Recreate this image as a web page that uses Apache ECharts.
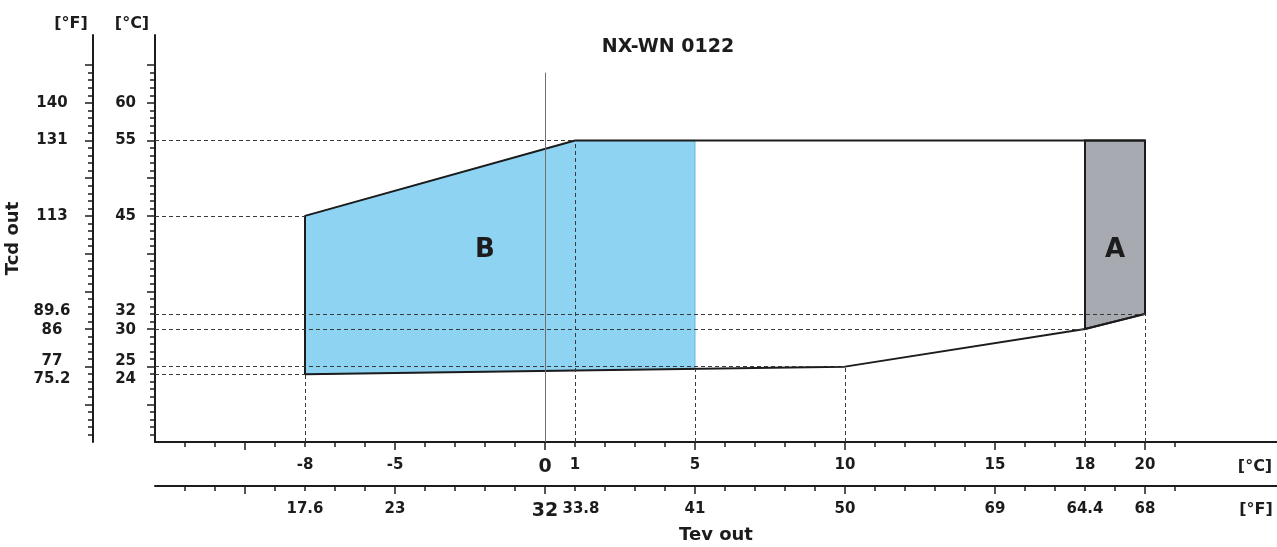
<!DOCTYPE html>
<html>
<head>
<meta charset="utf-8">
<title>NX-WN 0122</title>
<script src="https://cdn.jsdelivr.net/npm/echarts@6/dist/echarts.min.js"></script>
<style>
  html, body { margin: 0; padding: 0; background: #fff; }
  #chart { width: 1277px; height: 547px; }
</style>
</head>
<body>
<div id="chart"></div>
<script>
// operating envelope, Tev out [°C] on x, Tcd out [°C] on y
const envelope = [[-8, 24], [-8, 45], [1, 55], [20, 55], [20, 32], [18, 30], [10, 25], [-8, 24]]
const zoneB = [[-8, 24], [-8, 45], [1, 55], [5, 55], [5, 24.7]]
const zoneA = [[18, 30], [18, 55], [20, 55], [20, 32]]
const labelB = [-2, 40.5]
const labelA = [19, 40.5]

// dashed guides: [level, where it stops]
const tcdGuides = [[55, 1], [45, -8], [32, 20], [30, 18], [25, 10], [24, -8]]
const tevGuides = [[-8, 24], [1, 55], [5, 24.7], [10, 25], [18, 30], [20, 32]]
const zeroLine = [[0, 64], [0, 15]]

// tick labels
const tevC = [-8, -5, 0, 1, 5, 10, 15, 18, 20]
const tevF = ['17.6', '23', '32', '33.8', '41', '50', '69', '64.4', '68']
const tcdC = [24, 25, 30, 32, 45, 55, 60]
const tcdF = ['75.2', '77', '86', '89.6', '113', '131', '140']

const TEV_MIN = -13
const TEV_MAX = 24.4
const TCD_MIN = 15
const TCD_MAX = 69

function range(a, b, step) {
  const out = []
  for (let v = a; v <= b; v += step) out.push(v)
  return out
}
const tevTicks = range(-12, 21, 1)
const tevMajor = range(-10, 20, 5)
const tcdTicks = range(16, 65, 1)
const tcdMajor = range(20, 65, 5)

// 24 and 25 sit only 1 °C apart; ECharts would drop one of them as an
// overlapping end label, so 24 goes on the overlaid major-tick axis
const tcdLow = tcdC.slice(0, 1)
const tcdRest = tcdC.slice(1)

const FONT = 'DejaVu Sans'
const INK = '#1c1c1c'

// crowded y labels are pushed apart a little on the original (px, + = down)
const tcdNudge = { 32: -3, 30: 1, 25: -6, 24: 5 }

const baseText = { fontFamily: FONT, fontWeight: 'bold', fontSize: 15, color: INK }
const tcdRich = {}
Object.keys(tcdNudge).forEach(k => {
  const n = tcdNudge[k]
  tcdRich['n' + k] = Object.assign({ padding: n < 0 ? [0, 0, -2 * n, 0] : [2 * n, 0, 0, 0] }, baseText)
})

function tevLabel(names) {
  return v => {
    const i = tevC.indexOf(v)
    if (i < 0) return ''
    // the 0 / 32 pair is printed larger, 33.8 is pushed right of 32
    if (v === 0) return '{big|' + names[i] + '}'
    if (v === 1 && names[i] !== '1') return '{shift|' + names[i] + '}'
    return names[i]
  }
}

function tcdLabel(names) {
  return v => {
    const i = tcdC.indexOf(v)
    if (i < 0) return ''
    return tcdNudge[v] != null ? '{n' + v + '|' + names[i] + '}' : names[i]
  }
}

function tevAxis(offset, ticks, len, names) {
  const axis = {
    type: 'value', min: TEV_MIN, max: TEV_MAX, position: 'bottom', offset: offset,
    axisLine: { show: !!names, onZero: false, lineStyle: { color: INK, width: 2 } },
    axisTick: { show: true, customValues: ticks, length: len, lineStyle: { color: INK, width: 1.5 } },
    axisLabel: { show: false },
    splitLine: { show: false }
  }
  if (names) {
    axis.axisLabel = Object.assign({
      show: true, customValues: tevC, margin: 16, hideOverlap: false,
      showMinLabel: true, showMaxLabel: true,
      formatter: tevLabel(names),
      rich: {
        big: Object.assign({}, baseText, { fontSize: 19 }),
        shift: Object.assign({ padding: [0, 0, 0, 12] }, baseText)
      }
    }, baseText)
  }
  return axis
}

function tcdAxis(offset, ticks, len, shown, names, margin, align, line) {
  return {
    type: 'value', min: TCD_MIN, max: TCD_MAX, position: 'left', offset: offset,
    axisLine: { show: line, onZero: false, lineStyle: { color: INK, width: 2 } },
    axisTick: { show: true, customValues: ticks, length: len, lineStyle: { color: INK, width: 1.5 } },
    axisLabel: Object.assign({
      show: true, customValues: shown, margin: margin, align: align, hideOverlap: false,
      showMinLabel: true, showMaxLabel: true,
      formatter: tcdLabel(names),
      rich: tcdRich
    }, baseText),
    splitLine: { show: false }
  }
}

function zoneSeries(points, fill, stroke, width, text, textAt) {
  return {
    type: 'custom',
    data: points,
    z: 1,
    silent: true,
    renderItem: (params, api) => {
      if (params.dataIndex !== 0) return
      const pts = points.map(p => api.coord(p))
      const at = api.coord(textAt)
      return {
        type: 'group',
        children: [
          { type: 'polygon', shape: { points: pts }, style: { fill: fill, stroke: stroke, lineWidth: width } },
          {
            type: 'text', x: at[0], y: at[1],
            style: {
              text: text, fill: INK, align: 'center', verticalAlign: 'middle',
              font: 'bold 26px "' + FONT + '"'
            }
          }
        ]
      }
    }
  }
}

const guideLines = []
tcdGuides.forEach(g => guideLines.push([{ coord: [TEV_MIN, g[0]] }, { coord: [g[1], g[0]] }]))
tevGuides.forEach(g => guideLines.push([{ coord: [g[0], TCD_MIN] }, { coord: [g[0], g[1]] }]))
guideLines.push([
  { coord: zeroLine[0], lineStyle: { type: 'solid', color: '#6f6f6f', width: 1 } },
  { coord: zeroLine[1] }
])

const xAxes = [tevAxis(0, tevTicks, 5, tevC.map(String)), tevAxis(0, tevMajor, 8, null),
  tevAxis(44, tevTicks, 5, tevF), tevAxis(44, tevMajor, 8, null)]
xAxes[2].name = 'Tev out'
xAxes[2].nameLocation = 'middle'
xAxes[2].nameGap = 37
xAxes[2].nameTextStyle = Object.assign({}, baseText, { fontSize: 18 })

const tcdNamesC = tcdC.map(String)
const yAxes = [
  tcdAxis(0, tcdTicks, 5, tcdRest, tcdNamesC, 19, 'right', true),
  tcdAxis(0, tcdMajor, 8, tcdLow, tcdNamesC, 19, 'right', false),
  tcdAxis(62, tcdTicks, 5, tcdRest, tcdF, 41, 'center', true),
  tcdAxis(62, tcdMajor, 8, tcdLow, tcdF, 41, 'center', false)
]
yAxes[2].name = 'Tcd out'
yAxes[2].nameLocation = 'middle'
yAxes[2].nameGap = 62
yAxes[2].nameTextStyle = Object.assign({}, baseText, { fontSize: 18 })

const unitStyle = { font: 'bold 16px "' + FONT + '"', fill: INK, align: 'center', verticalAlign: 'middle' }

const chart = echarts.init(document.getElementById('chart'))
chart.setOption({
  animation: false,
  title: {
    text: 'NX-WN 0122', left: 663, top: 33, textAlign: 'center',
    textStyle: Object.assign({}, baseText, { fontSize: 19 })
  },
  grid: { left: 155, right: 0, top: 35, bottom: 105, outerBoundsMode: 'none', containLabel: false },
  xAxis: xAxes,
  yAxis: yAxes,
  graphic: [
    { type: 'text', x: 71, y: 24, style: Object.assign({ text: '[°F]' }, unitStyle) },
    { type: 'text', x: 132, y: 24, style: Object.assign({ text: '[°C]' }, unitStyle) },
    { type: 'text', x: 1255, y: 467, style: Object.assign({ text: '[°C]' }, unitStyle) },
    { type: 'text', x: 1256, y: 510, style: Object.assign({ text: '[°F]' }, unitStyle) }
  ],
  series: [
    zoneSeries(zoneB, '#8fd3f3', '#62b8e3', 1, 'B', labelB),
    zoneSeries(zoneA, '#a7aab0', INK, 2, 'A', labelA),
    {
      type: 'line',
      data: envelope,
      z: 3,
      symbol: 'none',
      silent: true,
      lineStyle: { color: INK, width: 2 },
      markLine: {
        silent: true,
        symbol: 'none',
        label: { show: false },
        lineStyle: { type: [4, 3], color: '#3a3a3a', width: 1 },
        data: guideLines
      }
    }
  ]
})
window.addEventListener('resize', () => { chart.resize() })
</script>
</body>
</html>
